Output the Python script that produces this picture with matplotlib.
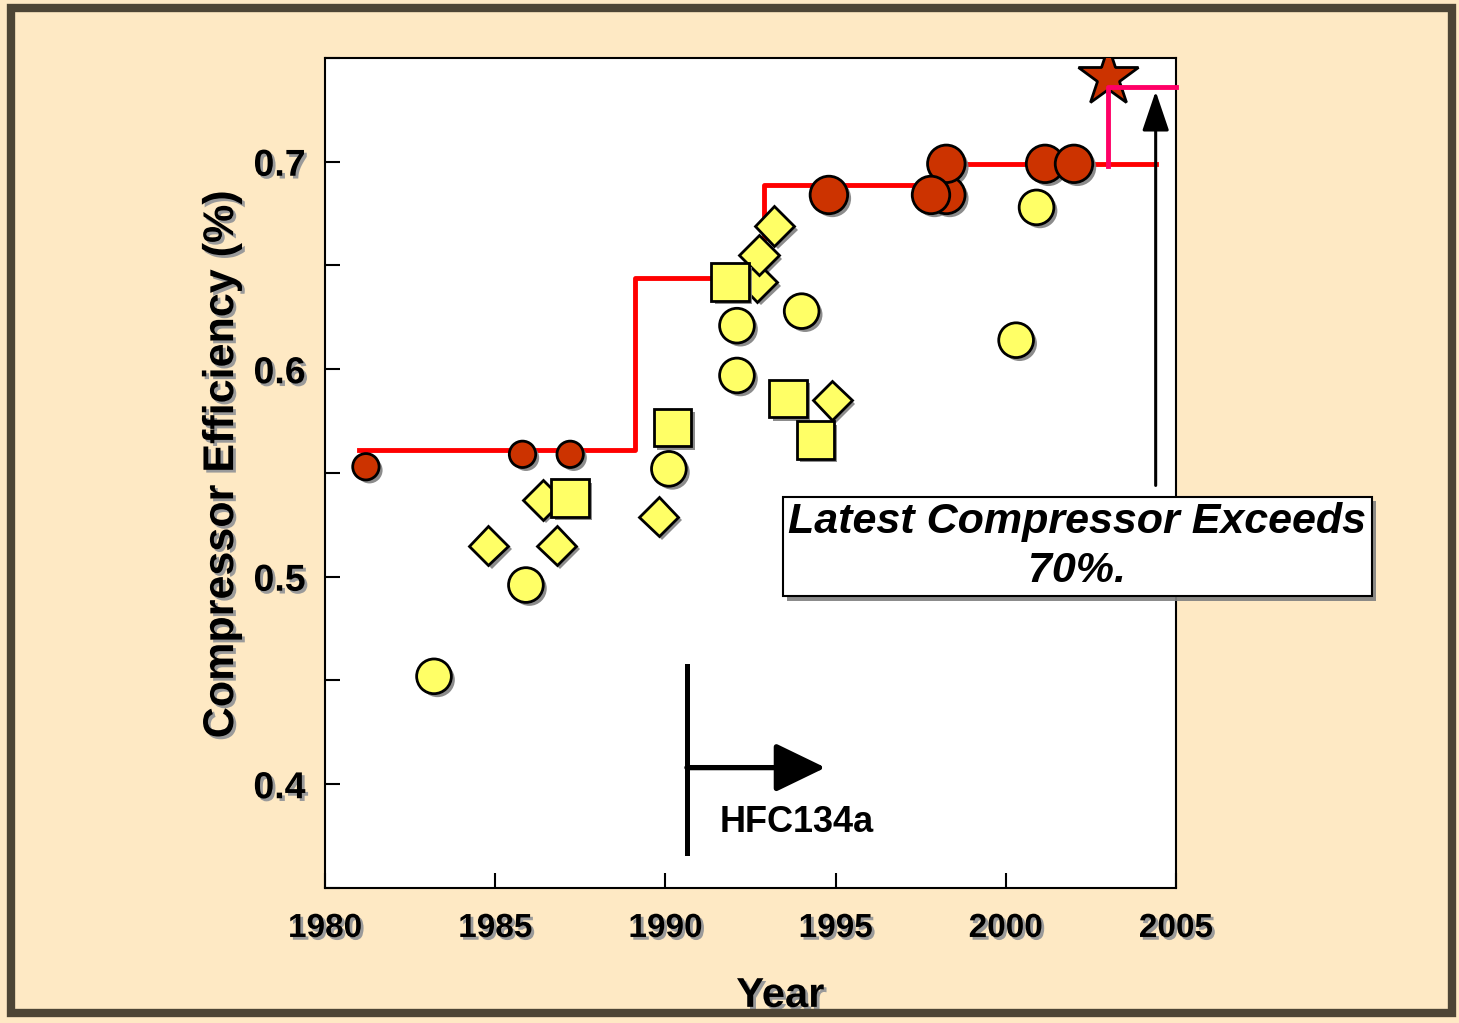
import matplotlib
import matplotlib.pyplot as plt
import matplotlib.patheffects as pe
from matplotlib.patches import Rectangle
from matplotlib.ticker import MultipleLocator

matplotlib.use("Agg")

plt.rcParams["font.family"] = ["Liberation Sans", "DejaVu Sans"]
plt.rcParams["font.weight"] = "bold"

# values
small_red_years = [1981.2, 1985.8, 1987.2]
small_red_eff = [0.553, 0.559, 0.559]

big_red_years = [1994.8, 1998.25, 1998.25, 1997.8, 2001.15, 2002.0]
big_red_eff = [0.684, 0.684, 0.699, 0.684, 0.699, 0.699]

circle_years = [1983.2, 1985.9, 1990.1, 1992.1, 1992.1, 1994.0, 2000.3, 2000.9]
circle_eff = [0.452, 0.496, 0.552, 0.621, 0.597, 0.628, 0.614, 0.678]

diamond_years = [1984.8, 1986.4, 1986.8, 1989.8, 1992.7, 1992.75, 1993.2, 1994.9]
diamond_eff = [0.515, 0.537, 0.515, 0.529, 0.642, 0.655, 0.669, 0.585]

square_years = [1987.2, 1990.2, 1991.9, 1993.6, 1994.4]
square_eff = [0.538, 0.572, 0.642, 0.586, 0.566]

step_years = [1981.0, 1989.1, 1992.9, 1998.3, 2004.4]
step_eff = [0.561, 0.644, 0.689, 0.699, 0.699]

latest_years = [2003.0, 2003.0, 2005.0]
latest_eff = [0.698, 0.736, 0.736]

star_year = [2003.0]
star_eff = [0.741]

bg = "#FEE9C4"
red = "#CC3300"
yellow = "#FFFF66"

fig = plt.figure(figsize=(14.59, 10.23), dpi=100, facecolor=bg)
ax = fig.add_axes([0.2228, 0.132, 0.5833, 0.8113])
ax.set_facecolor("white")

shadow = [pe.SimplePatchShadow(offset=(2.5, -2.5), shadow_rgbFace="#808080", alpha=0.9), pe.Normal()]
txt_shadow = [pe.withSimplePatchShadow(offset=(2, -2), shadow_rgbFace="#9a9a9a", alpha=1.0)]

# benchmark step lines
ax.plot(step_years, step_eff, drawstyle="steps-post", color="#FF0000", lw=3.5, zorder=2)

mk = dict(linestyle="none", markeredgecolor="black", markeredgewidth=2.0, zorder=3)
ax.plot(star_year, star_eff, marker="*", ms=45, markerfacecolor=red, **mk)
ax.plot(latest_years, latest_eff, color="#FF0066", lw=3.5, zorder=4, clip_on=False)

for xs, ys, m, s, c in [
    (small_red_years, small_red_eff, "o", 19, red),
    (big_red_years, big_red_eff, "o", 27, red),
    (diamond_years, diamond_eff, "D", 20, yellow),
    (circle_years, circle_eff, "o", 25, yellow),
    (square_years, square_eff, "s", 27, yellow),
]:
    line, = ax.plot(xs, ys, marker=m, ms=s, markerfacecolor=c, **mk)
    line.set_path_effects(shadow)

# arrow to the latest value
ax.annotate("", xy=(2004.4, 0.734), xytext=(2004.4, 0.544),
            arrowprops=dict(arrowstyle="-|>,head_length=2.45,head_width=0.83",
                            mutation_scale=10, lw=2.2, color="black",
                            shrinkA=0, shrinkB=0), zorder=5)

# HFC134a marker
ax.plot([1990.63, 1990.63], [0.457, 0.367], color="black", lw=3.6, zorder=5)
ax.annotate("", xy=(1994.7, 0.408), xytext=(1990.63, 0.408),
            arrowprops=dict(arrowstyle="-|>,head_length=3.1,head_width=1.5",
                            mutation_scale=10, lw=3.8, color="black",
                            shrinkA=0, shrinkB=0), zorder=5)
ax.text(1991.6, 0.3816, "HFC134a", fontsize=26, fontweight="bold",
        ha="left", va="center")

box = ax.text(2002.1, 0.5145, "Latest Compressor Exceeds\n70%.", fontsize=31,
              fontweight="bold", fontstyle="italic", ha="center", va="center",
              linespacing=1.3, clip_on=False, zorder=6,
              bbox=dict(boxstyle="square,pad=0.12", fc="white", ec="black", lw=1.5))
box.get_bbox_patch().set_path_effects(
    [pe.SimplePatchShadow(offset=(3, -3), shadow_rgbFace="#808080", alpha=0.9), pe.Normal()])

ax.set_xlim(1980, 2005)
ax.set_ylim(0.35, 0.75)
ax.xaxis.set_major_locator(MultipleLocator(5))
ax.yaxis.set_major_locator(MultipleLocator(0.1))
ax.yaxis.set_minor_locator(MultipleLocator(0.05))
ax.tick_params(axis="both", which="both", direction="in", length=11, width=1.5,
               top=False, right=False)
ax.tick_params(axis="y", labelsize=27, pad=14)
ax.tick_params(axis="x", labelsize=24, pad=18)
for lab in ax.get_xticklabels() + ax.get_yticklabels():
    lab.set_fontweight("bold")
    lab.set_path_effects(txt_shadow)
for sp in ax.spines.values():
    sp.set_linewidth(1.5)

ax.text(-0.121, 0.5096, "Compressor Efficiency (%)", transform=ax.transAxes,
        rotation=90, fontsize=31, fontweight="bold", ha="center", va="center",
        path_effects=txt_shadow)
ax.text(0.535, -0.13, "Year", transform=ax.transAxes, fontsize=30,
        fontweight="bold", ha="center", va="center", path_effects=txt_shadow)

# slide frame
fig.patches.append(Rectangle((0.0075, 0.01), 0.988, 0.982, transform=fig.transFigure,
                             fill=False, ec="#4d4535", lw=6))

fig.savefig("out.png", dpi=100, facecolor=bg)
